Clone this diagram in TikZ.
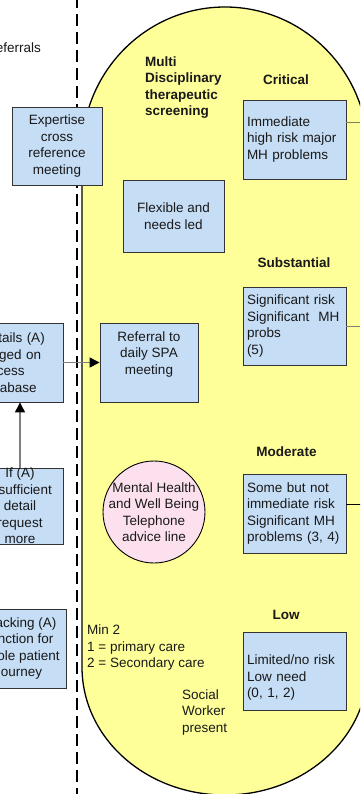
\documentclass[tikz,border=0pt]{standalone}
\usepackage{fontspec}
\setmainfont{Liberation Sans}
\usetikzlibrary{arrows.meta}
\definecolor{boxblue}{HTML}{C5DDF5}
\definecolor{shapeyellow}{HTML}{FFFF99}
\definecolor{circpink}{HTML}{FCE0EE}
\definecolor{boxline}{HTML}{333333}
\definecolor{olivegray}{HTML}{80805F}
\definecolor{linegray}{HTML}{7F7F7F}
\begin{document}
\begin{tikzpicture}[x=1pt,y=-1pt,
  every node/.style={font=\fontsize{13.5}{16.5}\selectfont, inner sep=0pt, text=black!90},
  bluebox/.style={draw=boxline, line width=0.9pt, fill=boxblue, align=center, inner sep=3pt},
  riskbox/.style={draw=boxline, line width=0.9pt, fill=boxblue, align=left, text width=95pt, inner xsep=4pt, inner ysep=2pt, minimum width=103pt},
  heading/.style={font=\fontsize{13.5}{16.5}\selectfont\bfseries},
  arr/.style={draw=linegray, line width=1.4pt, -{Triangle[length=10pt, width=10pt, color=black]}},
  link/.style={line width=1pt}
]
\useasboundingbox (0,0) rectangle (360,794);
\clip (0,0) rectangle (360,794);
\fill[white] (0,0) rectangle (360,794);

% divider
\draw[line width=2pt, dash pattern=on 12pt off 6pt] (77,-4) -- (77,800);

% screening stadium
\path[draw=black, line width=1.3pt, fill=shapeyellow]
  (82,152) .. controls (82,72) and (146,7) .. (225,7)
  .. controls (304,7) and (368,72) .. (368,152)
  -- (368,667)
  .. controls (368,738) and (304,795) .. (225,795)
  .. controls (146,795) and (82,738) .. (82,667) -- cycle;

% left column
\node[anchor=east] (referrals) at (41,47.5) {Referrals};
\node[bluebox, minimum width=90pt, minimum height=78pt] (expertise) at (57,146) {Expertise\\cross\\reference\\meeting};
\node[draw=boxline, line width=0.9pt, fill=boxblue, align=left, text width=78pt, inner xsep=4pt, minimum height=79pt] (details) at (20,362.5) {Details (A)\\logged on\\Access\\database};
\node[bluebox, minimum width=86pt, minimum height=76pt, inner ysep=0pt] (ifbox) at (20,506) {If (A)\\insufficient\\detail\\request\\more};
\node[bluebox, minimum width=92pt, minimum height=79pt] (tracking) at (20,648.5) {Tracking (A)\\function for\\whole patient\\journey};

% inside the screening shape
\node[heading, anchor=west, align=left] (multi) at (145,87.5) {Multi\\Disciplinary\\therapeutic\\screening};
\node[bluebox, minimum width=101pt, minimum height=72pt] (flexible) at (173.5,216) {Flexible and\\needs led};
\node[bluebox, minimum width=98pt, minimum height=79pt] (referral) at (149,362.5) {Referral to\\daily SPA\\meeting\\[-2pt]\strut};
\node[circle, draw=black, line width=0.9pt, fill=circpink, minimum size=102pt] (phone) at (154,512) {};
\node[align=center] (phonetext) at (phone.center) {Mental Health\\and Well Being\\Telephone\\advice line};
\node[anchor=west, align=left] (min2) at (87,648) {Min 2\\1 = primary care\\2 = Secondary care};
\node[anchor=west, align=left] (social) at (182,712.5) {Social\\Worker\\present};

% risk levels
\node[heading] (critical) at (286,80) {Critical};
\node[riskbox, minimum height=79pt] (critbox) at (294.5,139.5) {Immediate\\high risk major\\MH problems};
\node[heading] (substantial) at (294,263) {Substantial};
\node[riskbox, minimum height=78pt] (subbox) at (294.5,326) {Significant risk\\Significant\ \ MH\\probs\\(5)};
\node[heading] (moderate) at (286.5,452) {Moderate};
\node[riskbox, minimum height=79pt] (modbox) at (294.5,513.5) {Some but not\\immediate risk\\Significant MH\\problems (3, 4)};
\node[heading] (low) at (286,614.5) {Low};
\node[riskbox, minimum height=78pt] (lowbox) at (294.5,671) {\strut\\[-5pt]Limited/no risk\\Low need\\(0, 1, 2)};

% connectors
\coordinate (critR) at (366,123);
\coordinate (subR) at (366,326);
\coordinate (modR) at (366,504);
\draw[link, draw=olivegray] (critR -| critbox.east) -- (critR);
\draw[link, draw=linegray] (subbox.east) -- (subR);
\draw[link, draw=black] (modR -| modbox.east) -- (modR);
\draw[arr] (details.east) -- (referral.west);
\draw[arr] (ifbox.north) -- (details.south);
\end{tikzpicture}
\end{document}
